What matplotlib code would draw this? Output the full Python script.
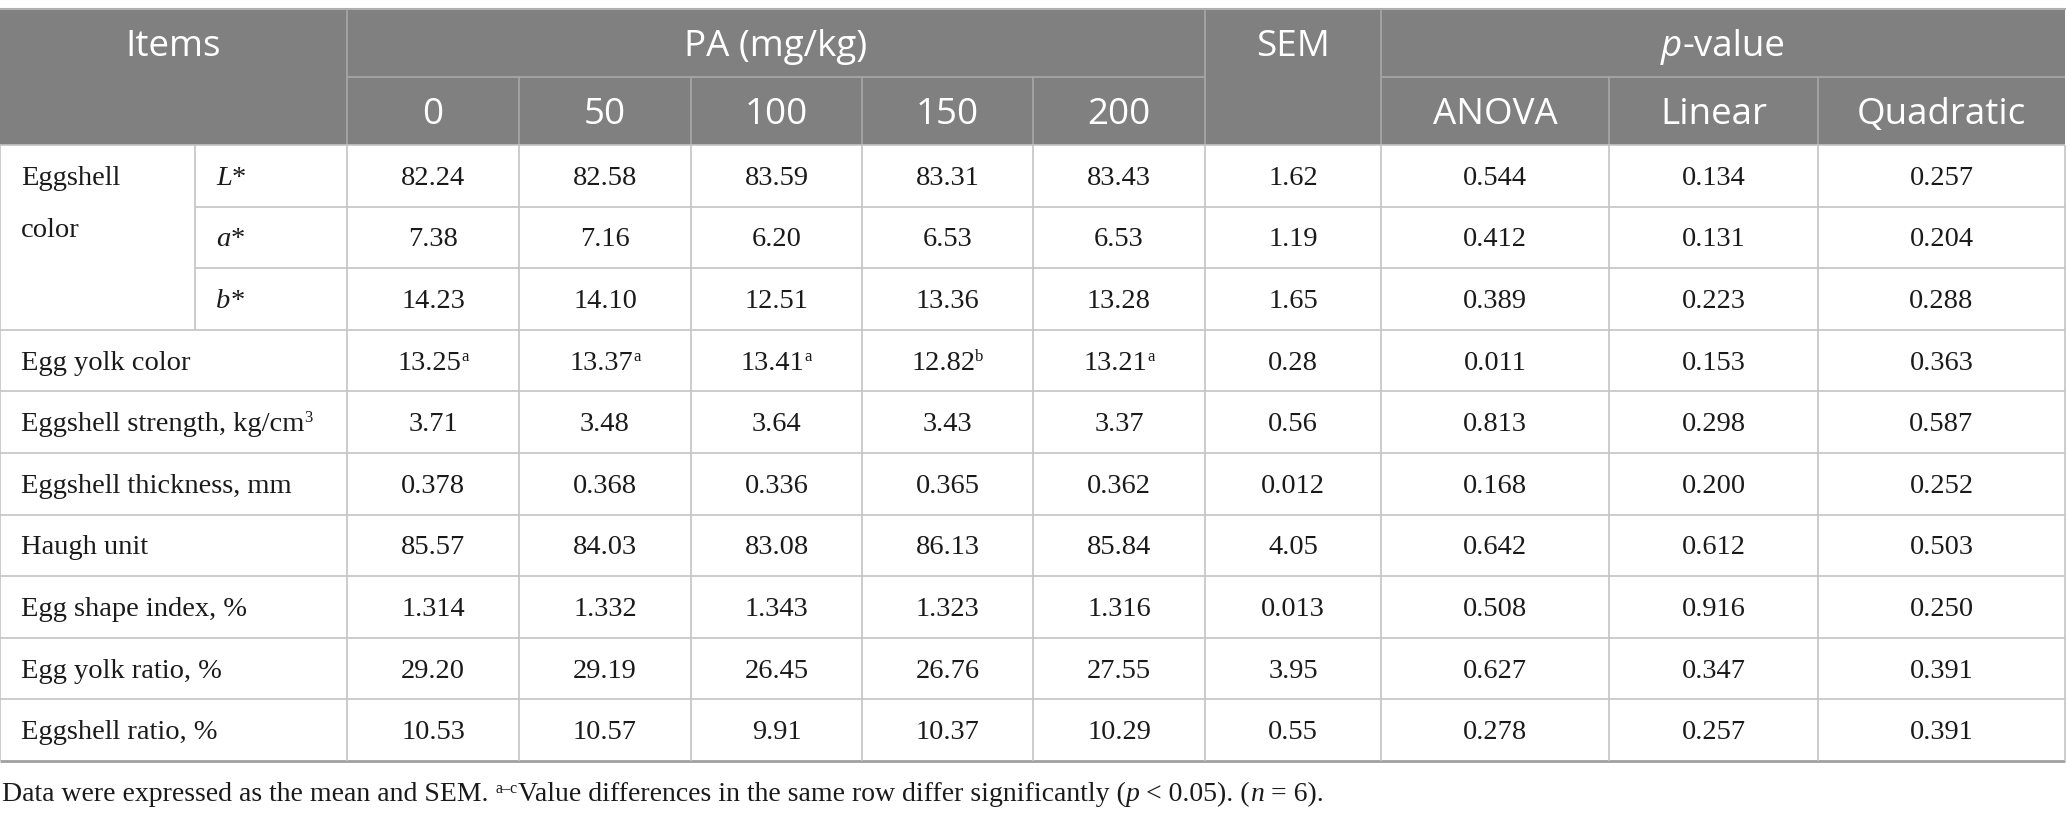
import matplotlib
matplotlib.use('Agg')
import matplotlib.pyplot as plt
from matplotlib.patches import Rectangle

# ---------------- data ----------------
pa_levels = ['0', '50', '100', '150', '200']
pvalue_labels = ['ANOVA', 'Linear', 'Quadratic']
item_labels = ['L*', 'a*', 'b*', 'Egg yolk color', 'Eggshell strength, kg/cm',
               'Eggshell thickness, mm', 'Haugh unit', 'Egg shape index, %',
               'Egg yolk ratio, %', 'Eggshell ratio, %']
pa_0 = ['82.24', '7.38', '14.23', '13.25', '3.71', '0.378', '85.57', '1.314', '29.20', '10.53']
pa_50 = ['82.58', '7.16', '14.10', '13.37', '3.48', '0.368', '84.03', '1.332', '29.19', '10.57']
pa_100 = ['83.59', '6.20', '12.51', '13.41', '3.64', '0.336', '83.08', '1.343', '26.45', '9.91']
pa_150 = ['83.31', '6.53', '13.36', '12.82', '3.43', '0.365', '86.13', '1.323', '26.76', '10.37']
pa_200 = ['83.43', '6.53', '13.28', '13.21', '3.37', '0.362', '85.84', '1.316', '27.55', '10.29']
yolk_letters = ['a', 'a', 'a', 'b', 'a']
sem = ['1.62', '1.19', '1.65', '0.28', '0.56', '0.012', '4.05', '0.013', '3.95', '0.55']
p_anova = ['0.544', '0.412', '0.389', '0.011', '0.813', '0.168', '0.642', '0.508', '0.627', '0.278']
p_linear = ['0.134', '0.131', '0.223', '0.153', '0.298', '0.200', '0.612', '0.916', '0.347', '0.257']
p_quadratic = ['0.257', '0.204', '0.288', '0.363', '0.587', '0.252', '0.503', '0.250', '0.391', '0.391']

# ---------------- layout ----------------
W, H = 2067, 817
fig = plt.figure(figsize=(W / 100, H / 100), dpi=100)
ax = fig.add_axes([0, 0, 1, 1])
ax.set_xlim(0, W)
ax.set_ylim(H, 0)
ax.axis('off')
renderer = fig.canvas.get_renderer()

x_edges = [0, 195, 347, 519, 691, 862, 1033, 1205, 1381, 1609, 1818, 2065]
y_top, y_mid, y_head = 9, 77, 145
row_h = 61.6
n_rows = len(item_labels)
row_edges = [y_head + i * row_h for i in range(n_rows + 1)]

HEAD_BG = '#808080'
HEAD_LINE = '#a8a8a8'
GRID = '#c4c4c4'
SANS = 'Open Sans'
SERIF = 'Liberation Serif'
FS_HEAD = 26.5
FS_BODY = 20.5
FS_SUP = 12
FS_FOOT = 20

# header background
ax.add_patch(Rectangle((x_edges[0], y_top), x_edges[-1] - x_edges[0], y_head - y_top,
                       facecolor=HEAD_BG, edgecolor='none', zorder=0))
ax.plot([x_edges[0], x_edges[-1]], [y_top, y_top], color='#b0b0b0', lw=1.5, zorder=1)

def hline(y, x0, x1, color, lw=1.2):
    ax.plot([x0, x1], [y, y], color=color, lw=lw, zorder=2, solid_capstyle='butt')

def vline(x, y0, y1, color, lw=1.2):
    ax.plot([x, x], [y0, y1], color=color, lw=lw, zorder=2, solid_capstyle='butt')

# header lines
hline(y_mid, x_edges[2], x_edges[7], HEAD_LINE)
hline(y_mid, x_edges[8], x_edges[11], HEAD_LINE)
for xi in (2, 7, 8):
    vline(x_edges[xi], y_top, y_head, HEAD_LINE)
for xi in (3, 4, 5, 6, 9, 10):
    vline(x_edges[xi], y_mid, y_head, HEAD_LINE)

# body lines
for i, y in enumerate(row_edges):
    if i in (1, 2):
        hline(y, x_edges[1], x_edges[-1], GRID)
    elif i == n_rows:
        hline(y, x_edges[0], x_edges[-1], '#a0a0a0', lw=2.0)
    else:
        hline(y, x_edges[0], x_edges[-1], GRID)
for xi, xe in enumerate(x_edges):
    if xi == 1:
        vline(xe, row_edges[0], row_edges[3], GRID)
    else:
        vline(xe, row_edges[0], row_edges[-1], GRID)


def text_width(s, **kw):
    t1 = ax.text(0, 0, '|' + s + '|', **kw)
    t2 = ax.text(0, 0, '||', **kw)
    w = t1.get_window_extent(renderer).width - t2.get_window_extent(renderer).width
    t1.remove()
    t2.remove()
    return w


def draw_runs(x, y, runs, ha='left'):
    """runs: list of (text, style dict, vertical offset)."""
    widths = [text_width(s, **kw) for s, kw, dy in runs]
    total = sum(widths)
    cur = x - total / 2 if ha == 'center' else x
    for (s, kw, dy), w in zip(runs, widths):
        ax.text(cur, y + dy, s, ha='left', va='baseline', zorder=3, **kw)
        cur += w


def body(size=FS_BODY, **extra):
    d = dict(family=SERIF, fontsize=size, color='#1a1a1a')
    d.update(extra)
    return d


def head(**extra):
    d = dict(family=SANS, fontsize=FS_HEAD, color='white')
    d.update(extra)
    return d

# header text (baselines)
hb1 = (y_top + y_mid) / 2 + 13
hb2 = (y_mid + y_head) / 2 + 13
draw_runs((x_edges[0] + x_edges[2]) / 2, hb1, [('Items', head(), 0)], ha='center')
draw_runs((x_edges[2] + x_edges[7]) / 2, hb1, [('PA (mg/kg)', head(), 0)], ha='center')
draw_runs((x_edges[7] + x_edges[8]) / 2, hb1, [('SEM', head(), 0)], ha='center')
draw_runs((x_edges[8] + x_edges[11]) / 2, hb1,
          [('p', head(style='italic'), 0), ('-value', head(), 0)], ha='center')
for j, lab in enumerate(pa_levels):
    draw_runs((x_edges[2 + j] + x_edges[3 + j]) / 2, hb2, [(lab, head(), 0)], ha='center')
for j, lab in enumerate(pvalue_labels):
    draw_runs((x_edges[8 + j] + x_edges[9 + j]) / 2, hb2, [(lab, head(), 0)], ha='center')

# body text
value_cols = [pa_0, pa_50, pa_100, pa_150, pa_200]
stat_cols = [sem, p_anova, p_linear, p_quadratic]
stat_x = [(x_edges[7] + x_edges[8]) / 2, (x_edges[8] + x_edges[9]) / 2,
          (x_edges[9] + x_edges[10]) / 2, (x_edges[10] + x_edges[11]) / 2]
left_pad = 21
base_off = 9
for i in range(n_rows):
    yb = (row_edges[i] + row_edges[i + 1]) / 2 + base_off
    lab = item_labels[i]
    if i < 3:
        draw_runs(x_edges[1] + left_pad, yb,
                  [(lab[0], body(style='italic'), 0), (lab[1:], body(), 0)])
    elif lab.endswith('kg/cm'):
        draw_runs(x_edges[0] + left_pad, yb,
                  [(lab, body(), 0), ('3', body(size=FS_SUP), -9)])
    else:
        draw_runs(x_edges[0] + left_pad, yb, [(lab, body(), 0)])
    for j, col in enumerate(value_cols):
        cx = (x_edges[2 + j] + x_edges[3 + j]) / 2
        if lab == 'Egg yolk color':
            draw_runs(cx, yb, [(col[i], body(), 0), (yolk_letters[j], body(size=FS_SUP), -9)],
                      ha='center')
        else:
            draw_runs(cx, yb, [(col[i], body(), 0)], ha='center')
    for cx, col in zip(stat_x, stat_cols):
        draw_runs(cx, yb, [(col[i], body(), 0)], ha='center')

# spanning "Eggshell color" label
yb0 = (row_edges[0] + row_edges[1]) / 2 + base_off
draw_runs(x_edges[0] + left_pad, yb0, [('Eggshell', body(), 0)])
draw_runs(x_edges[0] + left_pad, yb0 + 52, [('color', body(), 0)])

# footnote
fy = 801
draw_runs(2, fy, [
    ('Data were expressed as the mean and SEM. ', body(size=FS_FOOT), 0),
    ('a\u2013c', body(size=11.5), -8),
    ('Value differences in the same row differ significantly (', body(size=FS_FOOT), 0),
    ('p', body(size=FS_FOOT, style='italic'), 0),
    (' < 0.05). (', body(size=FS_FOOT), 0),
    ('n', body(size=FS_FOOT, style='italic'), 0),
    (' = 6).', body(size=FS_FOOT), 0),
])

fig.savefig('out.png', dpi=100, facecolor='white')
